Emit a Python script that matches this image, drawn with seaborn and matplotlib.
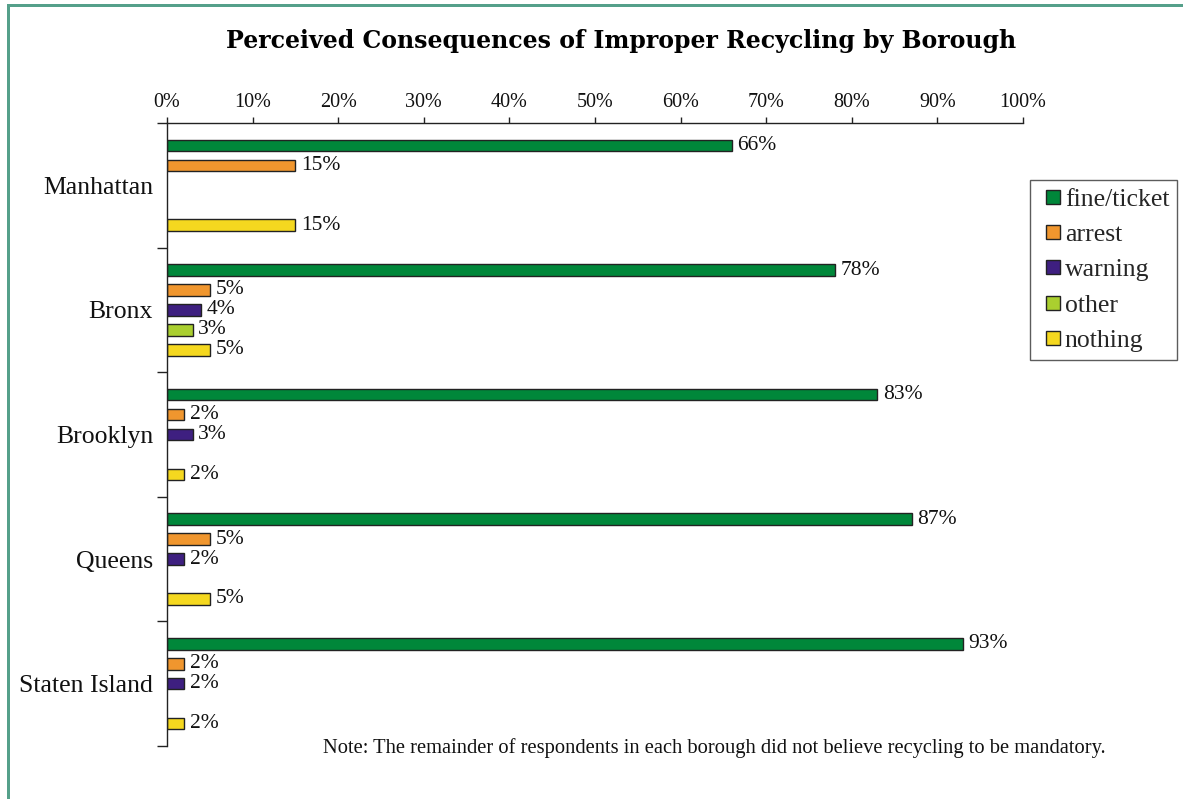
import numpy as np
import pandas as pd
import matplotlib
matplotlib.use("Agg")
import matplotlib.pyplot as plt
from matplotlib.lines import Line2D
from matplotlib.patches import Rectangle
from matplotlib.ticker import FixedLocator, MultipleLocator, PercentFormatter
import seaborn as sns

# Survey results: share of respondents naming each consequence
boroughs = ["Manhattan", "Bronx", "Brooklyn", "Queens", "Staten Island"]
responses = ["fine/ticket", "arrest", "warning", "other", "nothing"]
fine_ticket = [66, 78, 83, 87, 93]
arrest = [15, 5, 2, 5, 2]
warning = [None, 4, 3, 2, 2]
other = [None, 3, None, None, None]
nothing = [15, 5, 2, 5, 2]
colors = ["#00873A", "#F0962E", "#3E1F80", "#AACF2F", "#F5D81F"]
note = "Note: The remainder of respondents in each borough did not believe recycling to be mandatory."
title = "Perceived Consequences of Improper Recycling by Borough"

rows = []
for resp, vals in zip(responses, [fine_ticket, arrest, warning, other, nothing]):
    for b, v in zip(boroughs, vals):
        if v is not None:
            rows.append({"borough": b, "response": resp, "pct": v})
df = pd.DataFrame(rows)

sns.set_theme(style="white")
plt.rcParams["font.family"] = ["Liberation Serif", "DejaVu Serif"]

fig = plt.figure(figsize=(11.83, 7.99), dpi=100)
ax = fig.add_axes([167 / 1183, 1 - 746 / 799, (1023 - 167) / 1183, (746 - 123) / 799])

sns.barplot(
    data=df, x="pct", y="borough", hue="response",
    order=boroughs, hue_order=responses, palette=colors,
    orient="h", width=0.8, gap=0.42, dodge=True,
    edgecolor="#222222", linewidth=1.0, saturation=1, ax=ax,
)
ax.get_legend().remove()

for c in ax.containers:
    ax.bar_label(c, labels=[f"{v:.0f}%" for v in c.datavalues],
                 padding=4, fontsize=15.5, color="#111111")

ax.set_xlim(0, 100)
ax.set_ylim(4.5, -0.5)
ax.xaxis.tick_top()
ax.xaxis.set_major_locator(MultipleLocator(10))
ax.xaxis.set_major_formatter(PercentFormatter(decimals=0))
ax.tick_params(axis="x", which="major", top=True, bottom=False, direction="out",
               length=4, width=1, color="#222222", labelsize=14.5, pad=4, labelcolor="#111111")
ax.tick_params(axis="y", which="major", left=False, labelsize=18.5, pad=4, labelcolor="#111111")
ax.yaxis.set_minor_locator(FixedLocator(np.arange(-0.5, 5, 1.0)))
ax.tick_params(axis="y", which="minor", left=True, direction="out", length=7,
               width=1, color="#222222")
ax.set_xlabel("")
ax.set_ylabel("")
ax.grid(False)

for side in ["right", "bottom"]:
    ax.spines[side].set_visible(False)
for side in ["top", "left"]:
    ax.spines[side].set_color("#222222")
    ax.spines[side].set_linewidth(1.0)

handles = [Line2D([], [], linestyle="none", marker="s", markersize=9.4,
                  markerfacecolor=col, markeredgecolor="#222222", markeredgewidth=1.0)
           for col in colors]
leg = fig.legend(handles, responses, loc="upper right",
                 bbox_to_anchor=(1177 / 1183, 1 - 180 / 799),
                 fontsize=18.5, frameon=True, fancybox=False,
                 handlelength=1.15, handletextpad=-0.1,
                 labelspacing=0.48, borderpad=0.3, borderaxespad=0)
leg.get_frame().set_edgecolor("#333333")
leg.get_frame().set_linewidth(1.0)

fig.text(621 / 1183, 1 - 41 / 799, title, ha="center", va="center",
         fontsize=17, fontweight="bold", family="DejaVu Serif", color="#000000")
fig.text(323 / 1183, 1 - 748 / 799, note, ha="left", va="center",
         fontsize=14.8, color="#111111")

# Teal frame along the top and left edges
border = "#55A08A"
fig.add_artist(Rectangle((7 / 1183, 0), 3 / 1183, 1 - 5 / 799,
                         transform=fig.transFigure, color=border, lw=0))
fig.add_artist(Rectangle((7 / 1183, 1 - 7 / 799), 1 - 7 / 1183, 3 / 799,
                         transform=fig.transFigure, color=border, lw=0))

fig.savefig("out.png", dpi=100, facecolor="white")
